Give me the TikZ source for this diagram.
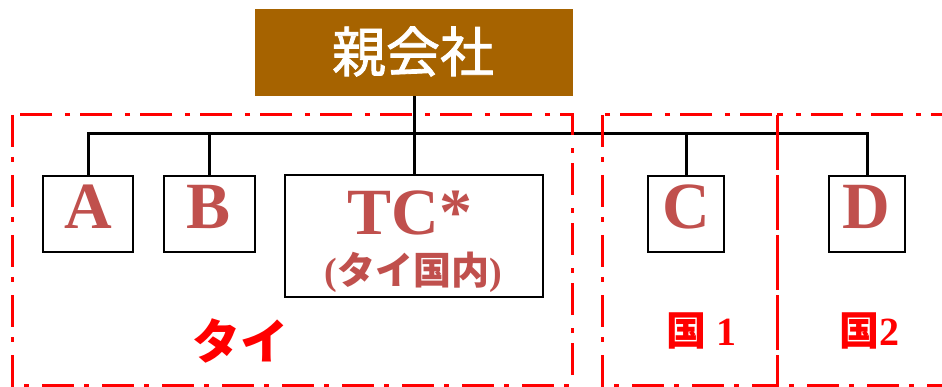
\documentclass[tikz,border=0pt]{standalone}
\usepackage{fontspec}
\setmainfont{Liberation Serif}
\newfontfamily\cjk{Noto Sans CJK JP}
\newfontfamily\cjkp{Noto Sans CJK JP}[FakeBold=1.6]
\definecolor{parentc}{HTML}{A66300}
\definecolor{letterc}{HTML}{C0504D}
\begin{document}
\begin{tikzpicture}[x=1pt,y=-1pt,
  box/.style={draw=black,line width=2pt,fill=white,inner sep=0pt,anchor=center},
  conn/.style={draw=black,line width=3pt},
  region/.style={draw=red,line width=3pt,dash pattern=on 32pt off 10pt on 5pt off 13pt},
  letter/.style={text=letterc,font=\fontsize{66}{66}\selectfont\bfseries,inner sep=0pt,anchor=base},
  reglabel/.style={text=red,inner sep=0pt,anchor=base}
]
\useasboundingbox (0,0) rectangle (942,387);
% parent
\node[fill=parentc,minimum width=318pt,minimum height=87pt,inner sep=0pt] (p) at (414,52.5) {};
\node[text=white,inner sep=0pt,font=\cjkp\fontsize{54}{54}\selectfont] (pt) at (413,51.5) {親会社};
% subsidiaries
\node[box,minimum width=90pt,minimum height=76pt] (a) at (88,214) {};
\node[box,minimum width=91pt,minimum height=76pt] (b) at (209.5,214) {};
\node[box,minimum width=258pt,minimum height=122pt] (tc) at (414,236) {};
\node[box,minimum width=76pt,minimum height=76pt] (c) at (686,214) {};
\node[box,minimum width=76pt,minimum height=76pt] (d) at (867,214) {};
\node[letter] (at) at (88,229) {A};
\node[letter] (bt) at (209,229) {B};
\node[letter] (ct) at (686,229) {C};
\node[letter] (dt) at (866,229) {D};
\node[letter] (tct) at (410,235) {TC*};
\node[text=letterc,inner sep=0pt,anchor=base,font=\fontsize{38}{38}\selectfont\bfseries] (tcs) at (413,284) {({\cjk\bfseries タイ国内})};
% connectors
\coordinate (bus) at (0,134);
\draw[conn] (a.north) -- (a.north |- bus) -- (d.north |- bus) -- (d.north);
\draw[conn] (b.north) -- (b.north |- bus);
\draw[conn] (c.north) -- (c.north |- bus);
% regions
\draw[region] (12,115) rectangle (572,385);
\draw[region] (602,115) rectangle (777,385);
\draw[region] (777,115) rectangle (960,385);
\draw[conn] (p.south) -- (tc.north);
% region labels
\node[reglabel,font=\cjk\bfseries\fontsize{48}{48}\selectfont] (l1) at (240,359) {タイ};
\node[reglabel,font=\fontsize{40}{40}\selectfont\bfseries] (l2) at (701,345) {{\cjk\bfseries 国} 1};
\node[reglabel,font=\fontsize{40}{40}\selectfont\bfseries] (l3) at (869,345) {{\cjk\bfseries 国}2};
\end{tikzpicture}
\end{document}
